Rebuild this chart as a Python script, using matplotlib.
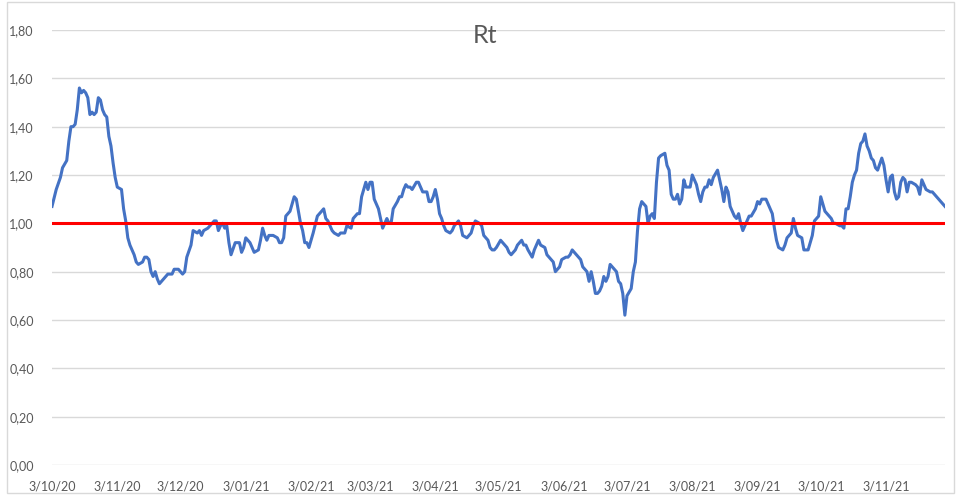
import datetime as dt
import matplotlib
matplotlib.use('Agg')
import matplotlib.pyplot as plt
import matplotlib.dates as mdates
from matplotlib.patches import Rectangle
from matplotlib.ticker import FuncFormatter, MultipleLocator

# Rt estimates, days counted from 3 Oct 2020
start = dt.date(2020, 10, 3)
days = [0, 2, 4, 5, 7, 8, 9, 10, 11, 12,
        13, 14, 15, 16, 17, 18, 19, 20, 21, 22,
        23, 24, 25, 26, 27, 28, 29, 30, 31, 33,
        34, 35, 36, 37, 39, 40, 41, 43, 44, 45,
        46, 47, 48, 49, 50, 51, 53, 55, 57, 58,
        60, 62, 63, 64, 66, 67, 69, 70, 71, 72,
        74, 76, 77, 78, 79, 80, 81, 82, 83, 84,
        85, 87, 88, 89, 90, 91, 92, 94, 95, 96,
        98, 99, 100, 101, 102, 103, 105, 107, 108, 109,
        110, 111, 112, 113, 114, 115, 116, 117, 118, 119,
        120, 121, 122, 124, 126, 127, 129, 130, 131, 133,
        134, 136, 137, 139, 140, 142, 143, 145, 146, 147,
        148, 149, 150, 151, 152, 153, 155, 156, 157, 158,
        159, 160, 161, 162, 164, 165, 166, 167, 168, 169,
        170, 171, 173, 174, 175, 176, 178, 179, 180, 181,
        182, 183, 184, 185, 186, 187, 189, 190, 191, 192,
        193, 194, 195, 197, 198, 199, 200, 201, 203, 204,
        205, 207, 208, 209, 210, 211, 213, 214, 216, 217,
        218, 220, 221, 223, 224, 225, 226, 228, 229, 230,
        231, 232, 234, 235, 237, 238, 239, 241, 242, 244,
        245, 246, 247, 249, 250, 251, 252, 254, 255, 256,
        257, 258, 259, 260, 261, 262, 263, 264, 265, 266,
        268, 269, 270, 271, 272, 273, 275, 276, 277, 278,
        279, 280, 282, 283, 284, 285, 286, 287, 288, 289,
        291, 292, 293, 294, 295, 296, 297, 298, 299, 300,
        301, 303, 304, 306, 307, 308, 309, 310, 311, 312,
        313, 314, 316, 317, 318, 319, 320, 321, 322, 324,
        325, 326, 327, 328, 329, 331, 332, 334, 335, 336,
        337, 339, 340, 341, 342, 343, 344, 345, 347, 348,
        349, 351, 352, 353, 354, 356, 357, 358, 359, 361,
        362, 363, 364, 365, 366, 367, 368, 370, 371, 372,
        374, 375, 376, 377, 378, 379, 380, 381, 382, 383,
        384, 385, 386, 387, 388, 389, 390, 391, 392, 394,
        395, 396, 397, 398, 399, 400, 401, 402, 403, 404,
        405, 406, 407, 408, 410, 411, 412, 413, 414, 415,
        417, 418, 419, 421, 422, 424]
rt = [1.07, 1.14, 1.19, 1.23, 1.26, 1.34, 1.40, 1.40, 1.41, 1.47,
      1.56, 1.54, 1.55, 1.54, 1.52, 1.45, 1.46, 1.45, 1.46, 1.52,
      1.51, 1.47, 1.45, 1.44, 1.36, 1.32, 1.25, 1.19, 1.15, 1.14,
      1.06, 1.01, 0.94, 0.91, 0.87, 0.84, 0.83, 0.84, 0.86, 0.86,
      0.85, 0.80, 0.78, 0.80, 0.77, 0.75, 0.77, 0.79, 0.79, 0.81,
      0.81, 0.79, 0.80, 0.86, 0.91, 0.97, 0.96, 0.97, 0.95, 0.97,
      0.98, 1.00, 1.01, 1.01, 0.97, 0.99, 1.00, 0.98, 0.99, 0.92,
      0.87, 0.92, 0.92, 0.92, 0.88, 0.90, 0.94, 0.92, 0.90, 0.88,
      0.89, 0.93, 0.98, 0.95, 0.93, 0.95, 0.95, 0.94, 0.92, 0.92,
      0.94, 1.03, 1.04, 1.05, 1.08, 1.11, 1.10, 1.05, 1.00, 0.97,
      0.92, 0.92, 0.90, 0.96, 1.03, 1.04, 1.06, 1.02, 1.01, 0.97,
      0.96, 0.95, 0.96, 0.96, 0.99, 0.98, 1.02, 1.04, 1.04, 1.11,
      1.14, 1.17, 1.14, 1.17, 1.17, 1.10, 1.06, 1.02, 0.98, 1.00,
      1.02, 1.00, 1.00, 1.06, 1.09, 1.11, 1.11, 1.14, 1.16, 1.15,
      1.15, 1.14, 1.17, 1.17, 1.15, 1.13, 1.13, 1.09, 1.09, 1.11,
      1.14, 1.10, 1.04, 1.02, 0.99, 0.97, 0.96, 0.97, 0.99, 1.00,
      1.01, 0.99, 0.95, 0.94, 0.95, 0.96, 0.99, 1.01, 1.00, 0.99,
      0.95, 0.93, 0.90, 0.89, 0.89, 0.90, 0.93, 0.92, 0.90, 0.88,
      0.87, 0.89, 0.91, 0.93, 0.91, 0.91, 0.89, 0.86, 0.89, 0.91,
      0.93, 0.91, 0.90, 0.87, 0.85, 0.84, 0.80, 0.82, 0.85, 0.86,
      0.86, 0.87, 0.89, 0.87, 0.86, 0.85, 0.82, 0.80, 0.76, 0.80,
      0.76, 0.71, 0.71, 0.72, 0.74, 0.78, 0.76, 0.78, 0.83, 0.82,
      0.80, 0.76, 0.75, 0.71, 0.62, 0.70, 0.73, 0.80, 0.84, 0.97,
      1.06, 1.09, 1.07, 1.00, 1.03, 1.04, 1.02, 1.17, 1.27, 1.28,
      1.29, 1.24, 1.22, 1.12, 1.10, 1.10, 1.12, 1.08, 1.10, 1.18,
      1.15, 1.15, 1.20, 1.16, 1.12, 1.09, 1.13, 1.15, 1.15, 1.18,
      1.16, 1.19, 1.22, 1.18, 1.14, 1.09, 1.15, 1.13, 1.07, 1.03,
      1.02, 1.04, 1.00, 0.97, 0.99, 1.03, 1.03, 1.06, 1.09, 1.08,
      1.10, 1.10, 1.08, 1.06, 1.04, 0.98, 0.93, 0.90, 0.89, 0.91,
      0.94, 0.96, 1.02, 0.98, 0.95, 0.94, 0.89, 0.89, 0.89, 0.95,
      1.01, 1.02, 1.03, 1.11, 1.08, 1.05, 1.04, 1.02, 1.00, 1.00,
      0.99, 0.99, 0.98, 1.06, 1.06, 1.11, 1.17, 1.20, 1.22, 1.29,
      1.33, 1.34, 1.37, 1.32, 1.30, 1.27, 1.26, 1.23, 1.22, 1.27,
      1.24, 1.18, 1.13, 1.19, 1.20, 1.13, 1.10, 1.11, 1.17, 1.19,
      1.18, 1.13, 1.17, 1.17, 1.16, 1.15, 1.12, 1.18, 1.16, 1.14,
      1.13, 1.13, 1.12, 1.10, 1.09, 1.07]
threshold = 1.0
title = 'Rt'

assert len(days) == len(rt)
dates = [start + dt.timedelta(days=d) for d in days]
end = start + dt.timedelta(days=days[-1])

plt.rcParams['font.family'] = ['Lato', 'DejaVu Sans']
grey = '#595959'

fig = plt.figure(figsize=(9.57, 4.95), dpi=100)
ax = fig.add_axes([52 / 957, 30 / 495, 893 / 957, 435 / 495])
fig.patches.append(Rectangle((7 / 957, 2 / 495), 947 / 957, 491 / 495,
                             transform=fig.transFigure, fill=False,
                             edgecolor='#d9d9d9', linewidth=1))

ax.plot(dates, rt, color='#4472c4', linewidth=2.2, zorder=3)
ax.axhline(threshold, color='#ff0000', linewidth=2.2, zorder=4)

ax.set_xlim(start, end)
ax.set_ylim(0, 1.8)
ax.yaxis.set_major_locator(MultipleLocator(0.2))
ax.yaxis.set_major_formatter(FuncFormatter(lambda v, p: f'{v:.2f}'.replace('.', ',')))
ax.xaxis.set_major_locator(mdates.MonthLocator(bymonthday=3))
ax.xaxis.set_major_formatter(FuncFormatter(
    lambda v, p: (lambda d: f'{d.day}/{d.month:02d}/{d.year % 100:02d}')(mdates.num2date(v))))

ax.grid(axis='y', color='#d9d9d9', linewidth=1)
ax.set_axisbelow(True)
for s in ax.spines.values():
    s.set_visible(False)
ax.tick_params(axis='both', length=0, labelsize=9, labelcolor=grey)
ax.tick_params(axis='y', pad=13)
ax.tick_params(axis='x', pad=11)

fig.text(0.507, 0.929, title, ha='center', va='center', fontsize=18, color=grey)

fig.savefig('out.png', dpi=100)
